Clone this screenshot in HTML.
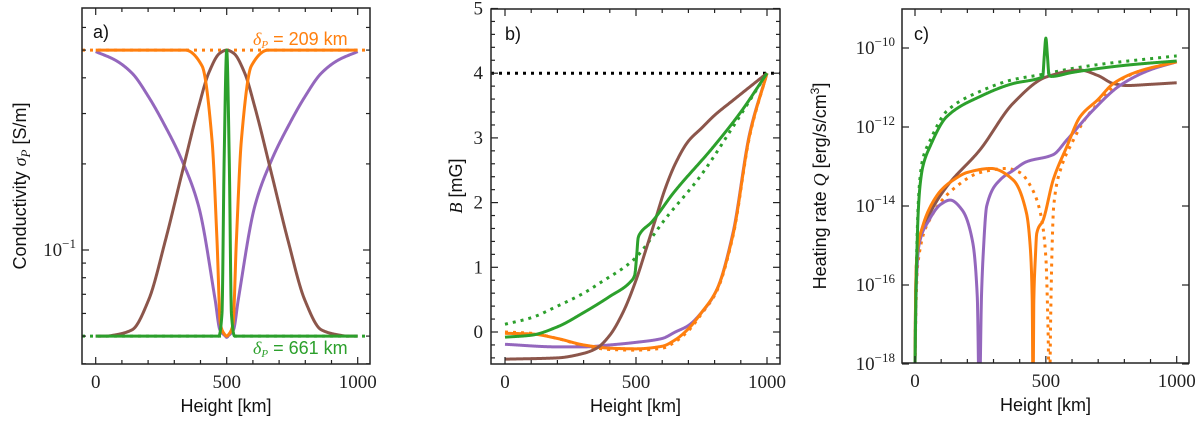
<!DOCTYPE html>
<html><head><meta charset="utf-8">
<style>
html,body{margin:0;padding:0;background:#fff;}
svg{display:block;}
.tl{font-family:"Liberation Serif",serif;font-size:19px;fill:#222;}
.al{font-family:"Liberation Sans",sans-serif;font-size:18px;fill:#111;}
</style></head>
<body>
<svg id="fig" width="1200" height="423" viewBox="0 0 1200 423" xmlns="http://www.w3.org/2000/svg"></svg>
<script>
// ---------- Panel a data (conductivity, S/m) ----------
const aOrangeX=[0,300,342,406,444,463,476,490,500,510,524,537,556,594,658,700,1000];
const aOrangeY=[0.5,0.5,0.5,0.44,0.242,0.108,0.055,0.051,0.05,0.051,0.055,0.108,0.242,0.44,0.5,0.5,0.5];
const aPurpleX=[0,75,139,202,266,329,393,456,474,495,500,505,526,544,607,671,734,798,861,925,1000];
const aPurpleY=[0.494,0.461,0.415,0.343,0.27,0.206,0.142,0.0669,0.0526,0.05,0.0495,0.05,0.0526,0.0669,0.142,0.206,0.27,0.343,0.415,0.461,0.494];
const aBrownX=[0,40,75,139,202,266,329,393,431,474,500,526,569,607,671,734,798,861,925,960,1000];
const aBrownY=[0.05,0.05,0.0505,0.0526,0.0669,0.108,0.185,0.317,0.415,0.488,0.5,0.488,0.415,0.317,0.185,0.108,0.0669,0.0526,0.0505,0.05,0.05];
const aGreenX=[0,470,482,490,500,510,518,530,1000];
const aGreenY=[0.05,0.05,0.06,0.2,0.5,0.2,0.06,0.05,0.05];
const aOrangeDotY=0.5, aGreenDotY=0.05;
// ---------- Panel b data (B, mG) ----------
const bGreenDotX=[0,100,200,300,363,489,618,744,870,1000];
const bGreenDotY=[0.12,0.22,0.4,0.6,0.76,1.11,1.78,2.4,3.17,4];
const bGreenX=[0,100,200,300,400,480,495,503,508,515,560,643,795,900,1000];
const bGreenY=[-0.08,-0.05,0.08,0.3,0.55,0.78,0.88,1.2,1.45,1.52,1.7,2.15,2.86,3.4,4];
const bBrownX=[0,200,300,350,400,450,500,540,575,610,650,700,750,800,870,1000];
const bBrownY=[-0.42,-0.4,-0.33,-0.25,-0.05,0.3,0.8,1.3,1.75,2.2,2.6,2.95,3.15,3.35,3.58,4];
const bPurpleX=[0,200,300,400,500,600,650,700,750,808,870,934,1000];
const bPurpleY=[-0.19,-0.23,-0.23,-0.2,-0.16,-0.1,0,0.1,0.3,0.65,1.53,3.07,4];
const bOrangeX=[0,100,200,300,400,500,600,650,700,750,808,870,934,1000];
const bOrangeY=[-0.02,-0.03,-0.1,-0.2,-0.25,-0.26,-0.22,-0.12,0.05,0.3,0.65,1.5,3.05,4];
const bOrangeDotY=[0.0,-0.02,-0.1,-0.21,-0.27,-0.28,-0.25,-0.15,0.02,0.28,0.63,1.48,3.03,4];
const bRefLevel=4;
// ---------- Panel c data (log10 Q) ----------
const cGreenX=[0,3,8,12,19,30,57,121,248,375,477,488,494,500,506,512,520,600,700,800,900,1000];
const cGreenY=[-18,-16.5,-15,-14.2,-13.5,-13,-12.5,-11.74,-11.23,-10.9,-10.76,-10.72,-10.2,-9.75,-10.2,-10.68,-10.72,-10.62,-10.52,-10.44,-10.38,-10.33];
const cGreenDotX=[0,3,8,12,19,30,57,121,248,375,477,600,700,800,900,1000];
const cGreenDotY=[-18,-16.3,-14.8,-14.0,-13.3,-12.8,-12.35,-11.6,-11.1,-10.8,-10.68,-10.52,-10.42,-10.34,-10.27,-10.2];
const cBrownX=[0,3,8,30,57,121,248,375,503,631,700,758,809,900,1000];
const cBrownY=[-18,-16,-15.2,-14.6,-14.18,-13.51,-12.58,-11.4,-10.73,-10.56,-10.7,-10.9,-10.95,-10.92,-10.88];
const cOrangeX=[0,3,8,30,60,100,147,200,290,375,426,440,448,451,454,460,465,490,528,580,631,700,758,850,1000];
const cOrangeY=[-18,-16,-15.2,-14.5,-14,-13.6,-13.34,-13.15,-13.05,-13.34,-14.18,-15,-16.4,-19,-16.4,-15.3,-14.7,-14.35,-13.34,-12.5,-11.74,-11.3,-10.9,-10.6,-10.35];
const cOrangeDotX=[0,4,10,60,150,250,350,400,450,480,500,508,514,518,524,530,560,600,650,700,800,1000];
const cOrangeDotY=[-18,-16.5,-15.5,-14.3,-13.55,-13.15,-13.05,-13.15,-13.6,-14.2,-15.3,-17,-19,-17,-15,-14,-13,-12.4,-11.8,-11.4,-10.75,-10.33];
const cPurpleX=[0,5,15,50,100,134,180,220,238,246,254,260,274,325,375,426,528,580,681,783,900,1000];
const cPurpleY=[-18,-16,-15,-14.4,-13.95,-13.85,-14.1,-14.9,-16.3,-19,-16.3,-15.3,-14.0,-13.34,-13.1,-12.88,-12.7,-12.33,-11.57,-10.95,-10.55,-10.35];
// tick labels
const xTickLabels=["0","500","1000"];
const bTickLabels=["0","1","2","3","4","5"];

const NS="http://www.w3.org/2000/svg";
const svg=document.getElementById('fig');
const C={o:"#ff7f0e",g:"#2ca02c",p:"#9467bd",b:"#8c564b"};
function mk(tag,attrs,parent){const e=document.createElementNS(NS,tag);for(const k in attrs)e.setAttribute(k,attrs[k]);(parent||svg).appendChild(e);return e;}

const ax={
 a:{x0:82,x1:370,y0:8,y1:364,X:v=>95.7+v*0.262,T:v=>Math.log10(v),YT:t=>250-286*(t+1)},
 b:{x0:491,x1:780,y0:9,y1:364,X:v=>505+v*0.262,T:v=>v,YT:t=>332-64.7*t},
 c:{x0:902,x1:1189,y0:9,y1:363,X:v=>915+v*0.2617,T:v=>v,YT:t=>48-39.5*(t+10)}
};
for(const k in ax){const a=ax[k];a.Y=v=>a.YT(a.T(v));const cp=mk('clipPath',{id:'clip-'+k});mk('rect',{x:a.x0,y:a.y0,width:a.x1-a.x0,height:a.y1-a.y0},cp);}

function monotone(xs,ys){
 const n=xs.length,d=[],m=new Array(n);
 for(let i=0;i<n-1;i++)d.push((ys[i+1]-ys[i])/(xs[i+1]-xs[i]));
 m[0]=d[0];m[n-1]=d[n-2];
 for(let i=1;i<n-1;i++){
  if(d[i-1]*d[i]<=0)m[i]=0;
  else{const h0=xs[i]-xs[i-1],h1=xs[i+1]-xs[i];const w1=2*h1+h0,w2=h1+2*h0;m[i]=(w1+w2)/(w1/d[i-1]+w2/d[i]);}
 }
 return x=>{
  let i=0;while(i<n-2&&x>xs[i+1])i++;
  const h=xs[i+1]-xs[i],t=(x-xs[i])/h,t2=t*t,t3=t2*t;
  return (2*t3-3*t2+1)*ys[i]+(t3-2*t2+t)*h*m[i]+(-2*t3+3*t2)*ys[i+1]+(t3-t2)*h*m[i+1];
 };
}
function plot(k,xs,ys,color,dotted,name){
 const a=ax[k];
 const f=monotone(xs,ys.map(a.T));
 const pts=[];const xa=xs[0],xb=xs[xs.length-1];
 const N=800;
 const samp=new Set();
 for(let i=0;i<=N;i++)samp.add(xa+(xb-xa)*i/N);
 xs.forEach(x=>samp.add(x));
 [...samp].sort((p,q)=>p-q).forEach(x=>pts.push([a.X(x),a.YT(f(x))]));
 const d="M"+pts.map(p=>p[0].toFixed(2)+","+p[1].toFixed(2)).join(" L");
 const p=mk('path',{d:d,fill:"none",stroke:color,"stroke-width":3,"clip-path":"url(#clip-"+k+")","stroke-linejoin":"round"});
 if(dotted)p.setAttribute('stroke-dasharray','3 5');
 
 
}
function hline(k,v,color,name){
 const a=ax[k];
 const l=mk('line',{x1:a.x0,x2:a.x1,y1:a.Y(v),y2:a.Y(v),stroke:color,"stroke-width":3,"stroke-dasharray":"3 5"});
 
 
}
function text(x,y,s,cls,anchor,name,extra){
 const t=mk('text',Object.assign({x:x,y:y,class:cls,"text-anchor":anchor||"middle"},extra||{}));
 t.innerHTML=s;
 
 
 return t;
}
function frame(k,name){
 const a=ax[k];
 const r=mk('rect',{x:a.x0,y:a.y0,width:a.x1-a.x0,height:a.y1-a.y0,fill:"none",stroke:"#222","stroke-width":1.5});
 
 
}
function tick(x1,y1,x2,y2){mk('line',{x1,y1,x2,y2,stroke:"#222","stroke-width":1.2});}
function xticks(k){
 const a=ax[k];
 for(let v=0;v<=1000;v+=100){const x=a.X(v);const L=(v%500===0)?7:4;tick(x,a.y1,x,a.y1-L);tick(x,a.y0,x,a.y0+L);}
 xTickLabels.forEach(s=>text(a.X(+s),a.y1+24,s,"tl","middle","x-tick-label"));
 text((a.x0+a.x1)/2,a.y1+48,"Height [km]","al","middle","x-axis-title");
}
function ytick(k,v,major){const a=ax[k];const y=a.Y(v);const L=major?7:4;tick(a.x0,y,a.x0+L,y);tick(a.x1,y,a.x1-L,y);}

// ---------- Panel a ----------
hline('a',aOrangeDotY,C.o,'orange-dotted-reference');
hline('a',aGreenDotY,C.g,'green-dotted-reference');
plot('a',aPurpleX,aPurpleY,C.p,false,'conductivity-purple');
plot('a',aBrownX,aBrownY,C.b,false,'conductivity-brown');
plot('a',aOrangeX,aOrangeY,C.o,false,'conductivity-orange');
plot('a',aGreenX,aGreenY,C.g,false,'conductivity-green');
frame('a','panel-a-axes');
xticks('a');
[0.04,0.05,0.06,0.07,0.08,0.09,0.2,0.3,0.4,0.5,0.6].forEach(v=>{const y=ax.a.Y(v);if(y>ax.a.y0&&y<ax.a.y1)ytick('a',v,false);});
ytick('a',0.1,true);
text(76,256,'10<tspan dy="-8" font-size="13">−1</tspan>',"tl","end","y-tick-label");
text(26,186,'Conductivity <tspan font-family="Liberation Serif" font-style="italic">σ<tspan font-size="13" dy="4">P</tspan></tspan><tspan dy="-4"> [S/m]</tspan>',"al","middle","y-axis-title",{transform:"rotate(-90 26 186)"});
text(93,38,"a)","al","start","panel-label-a",{"font-size":"19"});
text(253,45,'<tspan font-family="Liberation Serif" font-style="italic">δ<tspan font-size="11" dy="3">P</tspan></tspan><tspan dy="-3"> = 209 km</tspan>',"al","start","orange-annotation",{"font-size":"14",style:"fill:"+C.o});
text(253,354,'<tspan font-family="Liberation Serif" font-style="italic">δ<tspan font-size="11" dy="3">P</tspan></tspan><tspan dy="-3"> = 661 km</tspan>',"al","start","green-annotation",{"font-size":"14",style:"fill:"+C.g});

// ---------- Panel b ----------
hline('b',bRefLevel,"#000",'reference-level-line');
plot('b',bGreenDotX,bGreenDotY,C.g,true,'field-green-dotted');
plot('b',bOrangeX,bOrangeDotY,C.o,true,'field-orange-dotted');
plot('b',bPurpleX,bPurpleY,C.p,false,'field-purple');
plot('b',bOrangeX,bOrangeY,C.o,false,'field-orange');
plot('b',bBrownX,bBrownY,C.b,false,'field-brown');
plot('b',bGreenX,bGreenY,C.g,false,'field-green');
frame('b','panel-b-axes');
xticks('b');
for(let v=-0.4;v<=5.001;v+=0.2){const r=Math.round(v*10)/10;ytick('b',r,Math.abs(r-Math.round(r))<1e-6);}
bTickLabels.forEach(s=>text(483,ax.b.Y(+s)+6,s,"tl","end","y-tick-label"));
text(462,186,'<tspan font-family="Liberation Serif" font-style="italic">B</tspan> [mG]',"al","middle","y-axis-title",{transform:"rotate(-90 462 186)"});
text(505,40,"b)","al","start","panel-label-b",{"font-size":"19"});

// ---------- Panel c ----------
plot('c',cGreenDotX,cGreenDotY,C.g,true,'heating-green-dotted');
plot('c',cOrangeDotX,cOrangeDotY,C.o,true,'heating-orange-dotted');
plot('c',cBrownX,cBrownY,C.b,false,'heating-brown');
plot('c',cPurpleX,cPurpleY,C.p,false,'heating-purple');
plot('c',cOrangeX,cOrangeY,C.o,false,'heating-orange');
plot('c',cGreenX,cGreenY,C.g,false,'heating-green');
frame('c','panel-c-axes');
xticks('c');
[-10,-12,-14,-16,-18].forEach(v=>{ytick('c',v,true);text(895,ax.c.Y(v)+6,'10<tspan dy="-8" font-size="13">'+'−'+(-v)+'</tspan>',"tl","end","y-tick-label");});
text(826,186,'Heating rate <tspan font-family="Liberation Serif" font-style="italic">Q</tspan> [erg/s/cm<tspan dy="-7" font-size="12">3</tspan><tspan dy="7">]</tspan>',"al","middle","y-axis-title",{transform:"rotate(-90 826 186)"});
text(914,40,"c)","al","start","panel-label-c",{"font-size":"19"});
</script>
</body></html>
